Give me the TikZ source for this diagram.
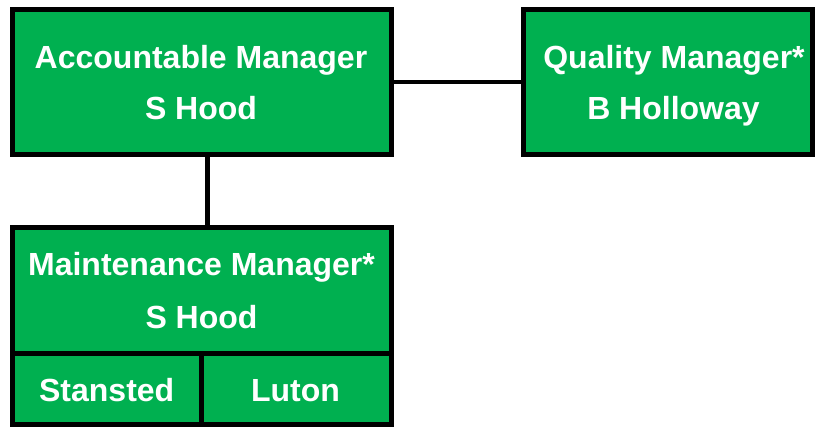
\documentclass[tikz,border=0pt]{standalone}
\usepackage{fontspec}
\setmainfont{Liberation Sans}
\definecolor{boxgreen}{HTML}{00B050}
\begin{document}
\begin{tikzpicture}[x=1pt,y=-1pt,
  box/.style={draw=black, line width=5pt, fill=boxgreen, inner sep=0pt, outer sep=0pt},
  lbl/.style={text=white, font=\bfseries\fontsize{32}{36}\selectfont, anchor=base, inner sep=0pt},
  conn/.style={draw=black, line width=4.5pt}]
\useasboundingbox (0,0) rectangle (816,426);
% boxes
\node[box, minimum width=379pt, minimum height=145pt] (acc) at (202,82) {};
\node[box, minimum width=289pt, minimum height=145pt] (qual) at (668,82) {};
\node[box, minimum width=379pt, minimum height=126pt] (mtop) at (202,290.5) {};
\node[box, minimum width=189pt, minimum height=70.5pt] (stan) at (107,388.75) {};
\node[box, minimum width=190pt, minimum height=70.5pt] (lut) at (296.5,388.75) {};
% connectors
\draw[conn] (acc.east) -- (qual.west);
\draw[conn] ([xshift=5.5pt]acc.south) -- ([xshift=5.5pt]mtop.north);
% labels
\node[lbl] (acc1) at (201,68) {Accountable Manager};
\node[lbl] (acc2) at (201,119.5) {S Hood};
\node[lbl] (qual1) at (674,68) {Quality Manager*};
\node[lbl] (qual2) at (673.5,119.5) {B Holloway};
\node[lbl] (mt1) at (201.5,275) {Maintenance Manager*};
\node[lbl] (mt2) at (201.5,328) {S Hood};
\node[lbl] (stan1) at (106.7,401.7) {Stansted};
\node[lbl] (lut1) at (295.5,401.7) {Luton};
\end{tikzpicture}
\end{document}
